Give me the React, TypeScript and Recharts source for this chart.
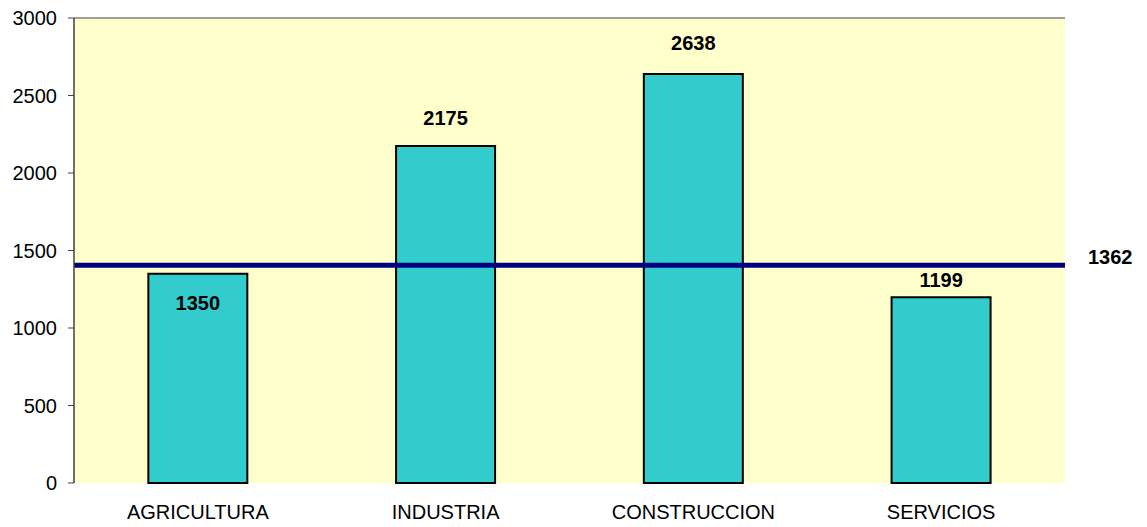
import { BarChart, Bar, XAxis, YAxis, CartesianGrid, ReferenceLine, LabelList } from "recharts";

const categories = ["AGRICULTURA", "INDUSTRIA", "CONSTRUCCION", "SERVICIOS"];
const values = [1350, 2175, 2638, 1199];
const yTicks = [0, 500, 1000, 1500, 2000, 2500, 3000];
const averageLabel = "1362";
const averageLevel = 1405; // where the line sits in the picture
const boundaryTicks = [0, 1, 2, 3, 4];

// vertical offset of each value label from the bar top (label centre)
const labelDy = [29, -28, -31, -17];

const FONT = "'Liberation Sans', Arial, sans-serif";

const data = categories.map((name, i) => ({ name, value: values[i] }));

function ValueLabel(props: any) {
  const { x, y, width, value, index } = props;
  return (
    <text
      x={x + width / 2}
      y={y + labelDy[index]}
      textAnchor="middle"
      dominantBaseline="central"
      fontFamily={FONT}
      fontSize={20}
      fontWeight="bold"
      fill="#000"
    >
      {value}
    </text>
  );
}

function AverageLabel(props: any) {
  const { viewBox } = props;
  return (
    <text
      x={viewBox.x + viewBox.width + 23}
      y={viewBox.y - 8}
      textAnchor="start"
      dominantBaseline="central"
      fontFamily={FONT}
      fontSize={20}
      fontWeight="bold"
      fill="#000"
    >
      {averageLabel}
    </text>
  );
}

export default function App() {
  return (
    <div style={{ margin: -8, width: 1147, height: 527, background: "#fff" }}>
      <BarChart
        width={1147}
        height={527}
        data={data}
        margin={{ top: 18, right: 82, bottom: 0, left: 0 }}
        barCategoryGap="30%"
      >
        <CartesianGrid fill="#FFFFCC" horizontal={false} vertical={false} />
        <XAxis
          xAxisId="b"
          type="number"
          domain={[0, 4]}
          ticks={boundaryTicks}
          tick={false}
          tickSize={6}
          height={0}
          stroke="#404040"
          axisLine={{ stroke: "#404040", strokeWidth: 1.5 }}
          tickLine={{ stroke: "#404040" }}
        />
        <XAxis
          dataKey="name"
          axisLine={false}
          tickLine={false}
          tickSize={0}
          tickMargin={22}
          height={44}
          interval={0}
          tick={{ fontFamily: FONT, fontSize: 20, fill: "#000" }}
        />
        <YAxis
          width={74}
          domain={[0, 3000]}
          ticks={yTicks}
          interval={0}
          tickSize={6}
          tickMargin={11}
          axisLine={{ stroke: "#404040", strokeWidth: 1.5 }}
          tickLine={{ stroke: "#404040" }}
          tick={{ fontFamily: FONT, fontSize: 20, fill: "#000" }}
        />
        <ReferenceLine y={3000} stroke="#808080" strokeWidth={1.5} />
        <ReferenceLine x={4} xAxisId="b" stroke="#808080" strokeWidth={1.5} />
        <Bar dataKey="value" fill="#33CCCC" stroke="#000" strokeWidth={2} isAnimationActive={false}>
          <LabelList dataKey="value" content={ValueLabel} />
        </Bar>
        <ReferenceLine
          y={averageLevel}
          stroke="#000080"
          strokeWidth={5}
          label={AverageLabel}
        />
      </BarChart>
    </div>
  );
}
